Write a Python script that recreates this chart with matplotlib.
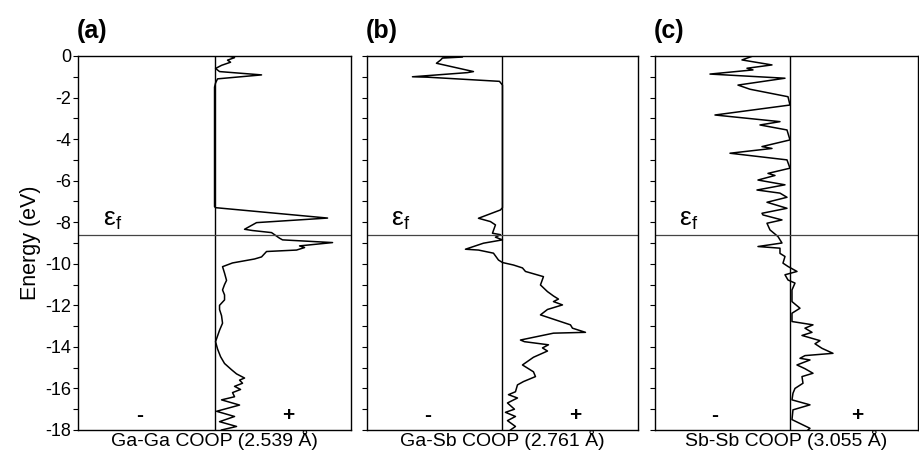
import matplotlib
matplotlib.use("Agg")
import matplotlib.pyplot as plt
from matplotlib.ticker import MultipleLocator

plt.rcParams['font.family'] = ['Liberation Sans', 'DejaVu Sans']
plt.rcParams['axes.unicode_minus'] = False

# COOP curves: (energy in eV, COOP in arb. units)
gaga_E = [0.0, -0.08, -0.2, -0.3, -0.45, -0.6, -0.75, -0.91, -1.1, -1.3, -1.5,
          -7.25, -7.3, -7.8, -8.02, -8.34, -8.4, -8.5, -8.77, -8.85, -8.98,
          -9.14, -9.22, -9.34, -9.41, -9.67, -9.77, -9.96, -10.14, -10.45,
          -10.8, -11.0, -11.26, -11.5, -11.74, -12.0, -12.2, -12.5, -12.86,
          -13.2, -13.75, -14.1, -14.47, -14.8, -15.1, -15.3, -15.5, -15.6,
          -15.75, -15.9, -16.05, -16.2, -16.4, -16.55, -16.8, -17.1, -17.35,
          -17.6, -17.83, -18.0]
gaga_coop = [0.14, 0.20, 0.13, 0.16, 0.07, 0.01, 0.05, 0.47, 0.03, 0.01, 0.0,
             0.0, 0.01, 1.13, 0.42, 0.30, 0.38, 0.57, 0.65, 0.68, 1.18,
             0.85, 0.90, 0.82, 0.52, 0.47, 0.40, 0.18, 0.08, 0.10,
             0.12, 0.10, 0.08, 0.10, 0.10, 0.05, 0.05, 0.07, 0.08,
             0.05, 0.01, 0.03, 0.06, 0.10, 0.17, 0.22, 0.30, 0.25,
             0.28, 0.20, 0.26, 0.18, 0.20, 0.07, 0.25, 0.02, 0.20,
             0.05, 0.22, 0.07]

gasb_E = [0.0, -0.05, -0.1, -0.2, -0.35, -0.75, -0.8, -1.0, -1.02, -1.22, -1.4,
          -7.3, -7.41, -7.81, -7.97, -8.13, -8.53, -8.6, -8.72, -8.85, -9.01,
          -9.3, -9.34, -9.49, -9.82, -9.94, -10.06, -10.2, -10.37, -10.62,
          -11.02, -11.34, -11.55, -11.7, -11.82, -11.98, -12.2, -12.46, -12.94,
          -13.1, -13.3, -13.34, -13.67, -13.75, -13.9, -14.05, -14.2, -14.5,
          -14.87, -15.2, -15.43, -15.67, -15.83, -16.16, -16.3, -16.46, -16.7,
          -17.0, -17.15, -17.35, -17.55, -17.83, -18.0]
gasb_coop = [-0.72, -0.40, -0.60, -0.62, -0.66, -0.29, -0.35, -0.90, -0.75, -0.03, 0.0,
             0.0, -0.02, -0.24, -0.12, -0.07, -0.10, -0.02, -0.07, 0.0, -0.19,
             -0.37, -0.24, -0.09, -0.04, 0.0, 0.11, 0.20, 0.23, 0.41,
             0.38, 0.45, 0.51, 0.56, 0.51, 0.60, 0.45, 0.38, 0.68,
             0.70, 0.83, 0.51, 0.18, 0.22, 0.46, 0.40, 0.45, 0.31,
             0.20, 0.31, 0.33, 0.21, 0.15, 0.13, 0.06, 0.15, 0.05,
             0.12, 0.03, 0.13, 0.05, 0.13, 0.08]

sbsb_E = [0.0, -0.19, -0.43, -0.59, -0.67, -0.87, -1.07, -1.4, -1.6, -1.96, -2.36,
          -2.84, -3.16, -3.32, -3.56, -4.04, -4.36, -4.45, -4.68, -5.0, -5.4,
          -5.65, -5.75, -5.97, -6.2, -6.45, -6.6, -6.8, -7.04, -7.33, -7.57,
          -7.65, -7.89, -8.05, -8.37, -8.69, -9.0, -9.17, -9.25, -9.5, -9.65,
          -9.97, -10.13, -10.37, -10.53, -10.78, -10.93, -11.26, -11.82, -12.14,
          -12.38, -12.78, -12.94, -13.1, -13.3, -13.45, -13.7, -13.85, -14.07,
          -14.31, -14.42, -14.55, -14.63, -14.87, -15.05, -15.27, -15.43, -15.75,
          -16.0, -16.23, -16.55, -16.79, -17.03, -17.5, -17.92, -18.0]
sbsb_coop = [-0.37, -0.48, -0.18, -0.43, -0.37, -0.80, -0.05, -0.52, -0.40, -0.02, 0.0,
             -0.75, -0.10, -0.30, -0.03, 0.0, -0.28, -0.18, -0.60, -0.03, 0.0,
             -0.22, -0.15, -0.32, -0.05, -0.33, -0.10, -0.03, -0.23, -0.03, -0.28,
             -0.27, -0.08, -0.23, -0.20, -0.12, -0.08, -0.32, -0.10, -0.10, -0.05,
             -0.07, -0.02, 0.07, -0.05, -0.02, 0.05, 0.02, 0.02, 0.10,
             0.02, 0.02, 0.23, 0.15, 0.22, 0.12, 0.30, 0.25, 0.32,
             0.43, 0.15, 0.10, 0.20, 0.07, 0.15, 0.23, 0.12, 0.13,
             0.05, 0.03, 0.02, 0.20, 0.03, 0.02, 0.20, 0.18]

panel_tags = ['(a)', '(b)', '(c)']
xlabels = ['Ga-Ga COOP (2.539 Å)', 'Ga-Sb COOP (2.761 Å)', 'Sb-Sb COOP (3.055 Å)']
curves = [(gaga_E, gaga_coop), (gasb_E, gasb_coop), (sbsb_E, sbsb_coop)]
fermi = -8.6

fig = plt.figure(figsize=(9.19, 4.53), dpi=100)
bottom, height = 0.0508, 0.8256
boxes = [(0.0849, 0.2971), (0.3993, 0.2949), (0.7127, 0.2862)]
xlims = [(-1.365, 1.365), (-1.355, 1.355), (-1.35, 1.28)]

for i, (left, width) in enumerate(boxes):
    ax = fig.add_axes([left, bottom, width, height])
    E, coop = curves[i]
    ax.plot(coop, E, color='black', lw=1.1)
    ax.axvline(0, color='black', lw=1.0)
    ax.axhline(fermi, color='#444444', lw=0.9)
    ax.set_xlim(*xlims[i])
    ax.set_ylim(-18, 0)
    ax.set_xticks([])
    ax.yaxis.set_major_locator(MultipleLocator(2))
    ax.yaxis.set_minor_locator(MultipleLocator(1))
    ax.tick_params(axis='y', which='both', direction='out', length=3.5, width=0.8,
                   labelsize=13, pad=1.5)
    if i > 0:
        ax.tick_params(axis='y', labelleft=False)
    else:
        ax.set_ylabel('Energy (eV)', fontsize=15.5, labelpad=3)
    for s in ax.spines.values():
        s.set_linewidth(1.0)
    ax.set_xlabel(xlabels[i], fontsize=14, labelpad=0)
    ax.annotate(panel_tags[i], xy=(0, 1), xycoords='axes fraction',
                xytext=(-1, 9), textcoords='offset points',
                fontsize=18, fontweight='bold', ha='left', va='bottom')
    ax.text(0.09, 0.545, r'$\mathregular{ε_f}$', transform=ax.transAxes,
            fontsize=19, ha='left', va='baseline')
    ax.text(0.225, 0.04, '-', transform=ax.transAxes, fontsize=15,
            fontweight='bold', ha='center', va='center')
    ax.text(0.77, 0.04, '+', transform=ax.transAxes, fontsize=15,
            fontweight='bold', ha='center', va='center')

fig.savefig('out.png', dpi=100)
